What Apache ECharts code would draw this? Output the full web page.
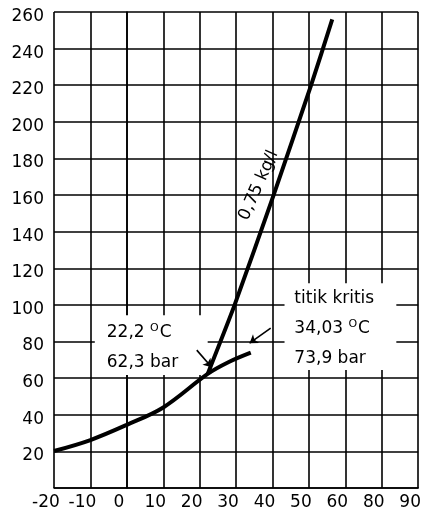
<!DOCTYPE html>
<html>
<head>
<meta charset="utf-8">
<script src="https://cdn.jsdelivr.net/npm/echarts@6/dist/echarts.min.js"></script>
<style>
  html, body { margin: 0; padding: 0; background: #fff; }
  #chart { width: 424px; height: 517px; }
</style>
</head>
<body>
<div id="chart"></div>
<script>
// Temperature tick labels (°C) printed under the vertical grid lines
const xTickLabels = ['-20', '-10', '0', '10', '20', '30', '40', '50', '60', '80', '90'];
// Pressure tick labels (bar); the origin line carries no label
const yTickLabels = ['', '20', '40', '60', '80', '100', '120', '140', '160', '180', '200', '220', '240', '260'];

// Vapour-pressure curve: temperature (°C) and pressure (bar)
const satTemp = [-20, -10, 0, 10, 22.2, 28, 34.03];
const satPres = [20.2, 26.2, 34.5, 44.0, 62.3, 68.8, 73.9];

// Constant-density line (0,75 kg/l)
const isoTemp = [22.2, 29.6, 40.3, 50.6, 56.4];
const isoPres = [62.3, 100, 160, 220, 256];
const isoName = '0,75 kg/l';

// Point where the density line leaves the vapour-pressure curve
const meetTemp = 22.2;
const meetPres = 62.3;
// Critical point
const critTemp = 34.03;
const critPres = 73.9;
const critName = 'titik kritis';

const FONT = 'DejaVu Sans';
const INK = '#000';
const comma = v => String(v).replace('.', ',');
const zip = (a, b) => a.map((v, i) => [v, b[i]]);

const textRich = {
  s: { fontFamily: FONT, fontSize: 11, color: INK, padding: [0, 1, 9, 0] },
  t: { fontFamily: FONT, fontSize: 17, color: INK }
};

const chart = echarts.init(document.getElementById('chart'));
chart.setOption({
  animation: false,
  backgroundColor: '#fff',
  grid: { left: 54, right: 5, top: 12, bottom: 29 },
  xAxis: {
    type: 'value', min: -20, max: 80, interval: 10,
    axisLine: { show: true, onZero: false, lineStyle: { color: INK, width: 1.6 } },
    axisTick: { show: false },
    splitLine: { show: true, lineStyle: { color: INK, width: 1.6 } },
    axisLabel: {
      fontFamily: FONT, fontSize: 17, color: INK, margin: 6,
      padding: [0, 16, 0, 0],
      formatter: v => xTickLabels[Math.round((v + 20) / 10)]
    }
  },
  yAxis: {
    type: 'value', min: 0, max: 260, interval: 20,
    axisLine: { show: true, lineStyle: { color: INK, width: 1.6 } },
    axisTick: { show: false },
    splitLine: { show: true, lineStyle: { color: INK, width: 1.6 } },
    axisLabel: {
      color: INK, margin: 10,
      formatter: v => '{n|' + yTickLabels[Math.round(v / 20)] + '}',
      rich: { n: { fontFamily: FONT, fontSize: 17, color: INK, padding: [9, 0, 0, 0] } }
    }
  },
  series: [
    {
      // blank panels behind the annotations
      type: 'line', data: [], z: 1, silent: true,
      markArea: {
        silent: true,
        itemStyle: { color: '#fff', opacity: 1 },
        data: [
          [{ coord: [-8.8, 61.7] }, { coord: [meetTemp, 94.4] }],
          [{ coord: [43.3, 64.4] }, { coord: [74, 111.9] }]
        ]
      }
    },
    {
      type: 'line', z: 5, smooth: 0.35, symbol: 'none',
      lineStyle: { color: INK, width: 4 },
      data: zip(satTemp, satPres)
    },
    {
      type: 'line', z: 5, smooth: 0.2, symbol: 'none',
      lineStyle: { color: INK, width: 4 },
      data: zip(isoTemp, isoPres)
    },
    {
      // pointer arrows to the meeting point and the critical point
      type: 'lines', coordinateSystem: 'cartesian2d', z: 6,
      symbol: ['none', 'arrow'], symbolSize: 8,
      lineStyle: { color: INK, width: 1.6, opacity: 1 },
      data: [
        { coords: [[19.2, 75.3], [23.3, 66.0]] },
        { coords: [[39.5, 87.3], [33.7, 79.1]] }
      ]
    },
    {
      // annotation texts
      type: 'scatter', z: 7, symbolSize: 0, silent: true,
      itemStyle: { opacity: 1 },
      label: {
        show: true, position: 'right', distance: 0, opacity: 1,
        fontFamily: FONT, fontSize: 17, color: INK, lineHeight: 30,
        rich: textRich
      },
      data: [
        {
          value: [-5.5, 76.9],
          label: { formatter: '{t|' + comma(meetTemp) + ' }{s|O}{t|C}\n{t|' + comma(meetPres) + ' bar}' }
        },
        {
          value: [46.0, 87.3],
          label: { formatter: '{t|' + critName + '}\n{t|' + comma(critTemp) + ' }{s|O}{t|C}\n{t|' + comma(critPres) + ' bar}' }
        },
        {
          value: [36.2, 165.3],
          label: { position: 'inside', rotate: 66, align: 'center', verticalAlign: 'middle', formatter: isoName }
        }
      ]
    }
  ]
});
</script>
</body>
</html>
